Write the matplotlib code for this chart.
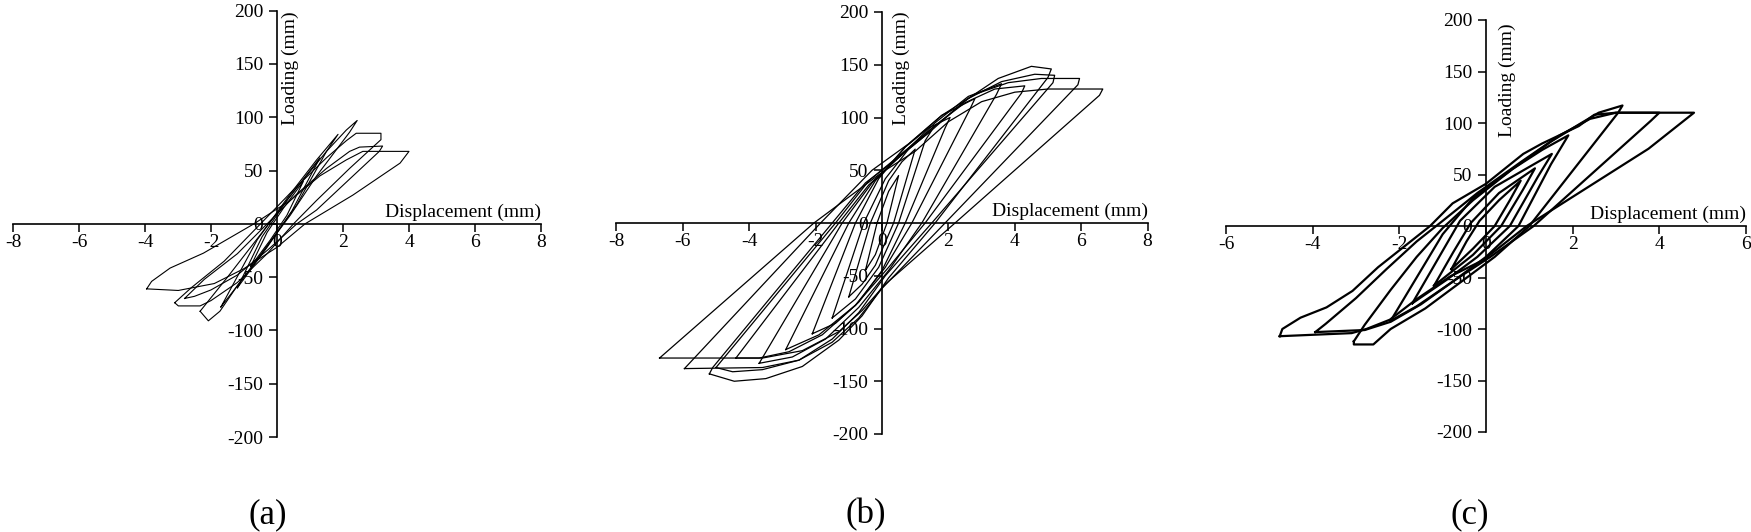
import matplotlib
matplotlib.use("Agg")
import matplotlib.pyplot as plt

plt.rcParams['font.family'] = ['Liberation Serif', 'DejaVu Serif']
plt.rcParams['axes.unicode_minus'] = False

# ---- panel (a): hysteresis cycles, (displacement mm, loading)
a1 = [(-0.8, -40), (-0.3, -8), (0.2, 15), (0.8, 40), (0.3, 8), (-0.2, -15), (-0.8, -40)]
a2 = [(-1.2, -60), (-0.45, -12), (0.3, 22), (1.3, 62), (0.45, 12), (-0.3, -22), (-1.2, -60)]
a3 = [(-1.7, -78), (-0.6, -15), (0.4, 28), (1.2, 60), (1.85, 84), (1.5, 68), (0.6, 18),
      (0.0, -8), (-0.8, -42), (-1.7, -78)]
a4 = [(-2.33, -82), (-1.5, -50), (-0.5, -10), (0.5, 30), (1.5, 68), (2.1, 88), (2.43, 97),
      (2.2, 86), (1.2, 45), (0.4, 8), (-0.4, -25), (-1.2, -58), (-1.73, -82), (-2.08, -91),
      (-2.33, -82)]
a5 = [(-3.1, -74), (-2.6, -60), (-1.6, -35), (-0.5, 0), (0.5, 32), (1.5, 62), (2.1, 78),
      (2.4, 85), (3.15, 85), (3.15, 79), (2.2, 52), (1.2, 22), (0.5, 0), (-0.3, -28),
      (-1.2, -55), (-2.0, -72), (-2.33, -77), (-2.99, -77), (-3.1, -74)]
a6 = [(-2.8, -70), (-2.2, -52), (-1.2, -28), (-0.3, 0), (0.6, 28), (1.5, 52), (2.2, 68),
      (2.5, 72), (3.2, 73), (3.1, 68), (2.2, 42), (1.2, 13), (0.6, 0), (-0.3, -25),
      (-1.2, -48), (-2.0, -62), (-2.5, -68), (-2.8, -70)]
a7 = [(-3.95, -61), (-3.8, -54), (-3.24, -41.5), (-2.23, -27.5), (-0.7, 0), (0.4, 22),
      (1.3, 45), (2.1, 60), (2.6, 68), (4.0, 68), (3.73, 57), (2.3, 27), (0.85, 0),
      (0.0, -22), (-1.0, -42), (-1.9, -56), (-2.99, -62.5), (-3.95, -61)]
loops_a = [a1, a2, a3, a4, a5, a6, a7]

# ---- panel (b)
b1 = [(-0.5, -45), (-0.15, 0), (0.2, 30), (0.5, 45), (0.15, 0), (-0.2, -30), (-0.5, -45)]
b2 = [(-1.0, -70), (-0.35, 0), (0.2, 40), (0.6, 58), (1.0, 70), (0.35, 0), (-0.2, -40),
      (-0.6, -58), (-1.0, -70)]
b3 = [(-1.5, -90), (-0.55, 0), (0.1, 42), (0.8, 70), (1.5, 88), (1.3, 78), (0.5, 0),
      (-0.1, -42), (-0.8, -72), (-1.5, -90)]
b4 = [(-2.1, -105), (-0.8, 0), (-0.1, 42), (0.7, 72), (1.4, 90), (2.05, 100), (1.9, 90),
      (0.7, 0), (0.0, -45), (-0.7, -75), (-1.4, -95), (-2.1, -105)]
b5 = [(-2.9, -120), (-1.0, 0), (-0.2, 40), (0.7, 72), (1.8, 102), (2.8, 118), (2.65, 108),
      (0.9, 0), (0.1, -42), (-0.8, -78), (-1.9, -106), (-2.9, -120)]
b6 = [(-3.7, -133), (-1.2, 0), (-0.3, 38), (0.6, 65), (1.6, 95), (2.6, 120), (3.6, 132),
      (3.45, 122), (1.2, 0), (0.2, -45), (-0.7, -80), (-1.7, -110), (-2.7, -127), (-3.7, -133)]
b6b = [(-4.4, -128), (-1.3, 0), (-0.4, 36), (0.5, 62), (1.5, 90), (2.5, 114), (3.4, 127),
       (4.3, 130), (4.2, 123), (1.3, 0), (0.2, -42), (-0.8, -78), (-1.8, -106), (-2.8, -122),
       (-3.7, -128), (-4.4, -128)]
b7 = [(-5.2, -143), (-5.1, -137), (-1.5, 0), (-0.5, 38), (0.5, 62), (1.5, 88), (2.5, 116),
      (3.5, 137), (4.5, 148.5), (5.1, 146), (5.0, 138), (1.6, 0), (0.2, -52), (-0.6, -88),
      (-1.3, -111), (-2.4, -136), (-3.5, -147.5), (-4.45, -150), (-5.2, -143)]
b7b = [(-5.0, -137), (-1.4, 0), (-0.4, 40), (0.6, 66), (1.6, 92), (2.6, 118), (3.6, 134),
       (4.6, 141), (5.2, 140), (5.15, 133), (1.5, 0), (0.1, -50), (-0.7, -85), (-1.5, -110),
       (-2.5, -130), (-3.6, -139), (-4.5, -141), (-5.0, -137)]
b8 = [(-5.95, -138), (-1.85, 0), (-0.3, 50), (0.8, 75), (1.8, 102), (2.8, 122), (3.8, 133),
      (4.8, 137), (5.95, 137), (5.9, 131), (1.9, 0), (0.0, -62), (-0.7, -90), (-1.5, -113),
      (-2.5, -130), (-3.6, -137), (-5.95, -138)]
b9 = [(-6.7, -128), (-2.05, 0), (0.0, 48), (1.0, 68), (2.0, 96), (3.0, 115), (4.0, 124),
      (5.0, 127), (6.65, 127), (6.55, 121), (2.2, 0), (0.1, -58), (-0.6, -83), (-1.3, -103),
      (-2.4, -121), (-3.6, -128), (-6.7, -128)]
loops_b = [b1, b2, b3, b4, b5, b6, b6b, b7, b7b, b8, b9]

# ---- panel (c)
c1 = [(-0.8, -42), (-0.45, -15), (-0.15, 5), (0.3, 25), (0.8, 44), (0.55, 25), (0.2, 0),
      (-0.3, -22), (-0.8, -42)]
c2 = [(-1.2, -58), (-0.75, -25), (-0.35, 3), (0.3, 32), (1.13, 56), (0.85, 35), (0.35, 0),
      (-0.3, -28), (-1.2, -58)]
c3 = [(-1.7, -75), (-1.15, -35), (-0.6, 5), (0.2, 38), (0.9, 55), (1.52, 70), (1.2, 48),
      (0.55, 0), (-0.2, -30), (-0.9, -52), (-1.7, -75)]
c4 = [(-2.2, -92), (-1.6, -50), (-1.0, -8), (-0.3, 27), (0.6, 55), (1.3, 74), (1.9, 88),
      (1.5, 60), (0.75, 0), (0.0, -30), (-0.8, -55), (-1.6, -78), (-2.2, -92)]
c5 = [(-3.05, -112), (-2.8, -96), (-2.2, -62), (-1.6, -30), (-1.0, -2), (-0.3, 25),
      (0.6, 55), (1.5, 82), (2.2, 100), (2.6, 110), (3.15, 117), (3.05, 110), (1.0, 0),
      (0.2, -30), (-0.6, -55), (-1.4, -80), (-2.2, -100), (-2.6, -115), (-3.05, -115),
      (-3.05, -112)]
c6 = [(-3.94, -103), (-3.7, -95), (-3.0, -70), (-2.3, -42), (-1.6, -15), (-1.0, 5),
      (-0.2, 32), (0.8, 62), (1.7, 88), (2.4, 104), (3.0, 110), (4.0, 110), (3.8, 102),
      (1.1, 0), (0.1, -30), (-0.7, -52), (-1.5, -76), (-2.2, -93), (-2.8, -101), (-3.94, -103)]
c7 = [(-4.76, -107), (-4.7, -100), (-4.28, -89), (-3.68, -79), (-3.08, -63), (-2.49, -40),
      (-1.8, -17), (-1.29, 0), (-0.77, 22), (0.0, 41), (0.86, 70), (1.29, 80), (2.14, 97),
      (2.5, 108), (3.0, 110), (4.8, 110), (3.75, 75), (0.94, 0), (-0.06, -33), (-0.83, -49),
      (-1.6, -71), (-2.22, -91), (-2.76, -100), (-3.1, -104), (-4.76, -107)]
loops_c = [c1, c2, c3, c4, c5, c6, c7]

xticks_ab = [-8, -6, -4, -2, 0, 2, 4, 6, 8]
xticks_c = [-6, -4, -2, 0, 2, 4, 6]
yticks = [-200, -150, -100, -50, 0, 50, 100, 150, 200]
panel_names = ['(a)', '(b)', '(c)']

W, H = 1751, 532
fig = plt.figure(figsize=(W / 100, H / 100), dpi=100)

# axes boxes in pixels: left, top, right, bottom of the data range
boxes = [(13, 10.7, 541, 437), (616.4, 12, 1147.6, 434), (1226, 20, 1746, 432)]
xlims = [(-8, 8), (-8, 8), (-6, 6)]
xticks_all = [xticks_ab, xticks_ab, xticks_c]
all_loops = [loops_a, loops_b, loops_c]
widths = [0.8, 0.9, 1.6]
label_x = [268, 866, 1470]
ylab_x = [290, 901, 1507]
ylab_bottom = [125, 125, 137]

for i in range(3):
    l, t, r, b = boxes[i]
    ax = fig.add_axes([l / W, 1 - b / H, (r - l) / W, (b - t) / H])
    ax.patch.set_alpha(0)
    for loop in all_loops[i]:
        xs = [p[0] for p in loop]
        ys = [p[1] for p in loop]
        ax.plot(xs, ys, color='black', lw=widths[i], zorder=3, solid_joinstyle='round')
    ax.set_xlim(*xlims[i])
    ax.set_ylim(-200, 200)
    ax.spines['left'].set_position(('data', 0))
    ax.spines['bottom'].set_position(('data', 0))
    ax.spines['top'].set_visible(False)
    ax.spines['right'].set_visible(False)
    for s in ('left', 'bottom'):
        ax.spines[s].set_linewidth(1.2)
    ax.set_xticks(xticks_all[i])
    ax.set_yticks(yticks)
    ax.tick_params(axis='both', direction='out', length=6, width=1.1, labelsize=14)
    ax.tick_params(axis='x', pad=1.5)
    ax.tick_params(axis='y', pad=4)
    ax.annotate('Displacement (mm)', xy=(1, 0), xycoords=('axes fraction', 'data'),
                xytext=(0, 5), textcoords='offset points', ha='right', va='baseline',
                fontsize=14)
    fig.text(ylab_x[i] / W, 1 - ylab_bottom[i] / H, 'Loading (mm)', rotation=90,
             ha='center', va='bottom', fontsize=14)
    fig.text(label_x[i] / W, 1 - 515 / H, panel_names[i], ha='center', va='center',
             fontsize=25)

fig.savefig('out.png', dpi=100)
